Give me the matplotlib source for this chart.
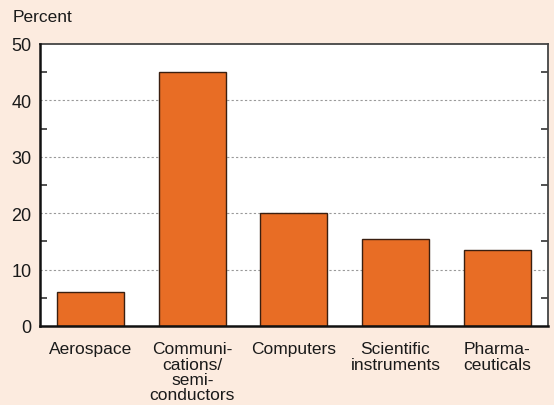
#!/usr/bin/env python3

import matplotlib
matplotlib.use('Agg')
import matplotlib.pyplot as plt
from matplotlib.ticker import MultipleLocator

# Share by industry (percent)
CATEGORIES = [
    "Aerospace",
    "Communi-\ncations/\nsemi-\nconductors",
    "Computers",
    "Scientific\ninstruments",
    "Pharma-\nceuticals",
]
VALUES = [6.0, 45.0, 20.0, 15.5, 13.5]
Y_TICKS = [0, 10, 20, 30, 40, 50]

BG = '#fcebdf'
BAR = '#e86d25'

plt.rcParams['font.family'] = ['Liberation Sans', 'DejaVu Sans']

fig = plt.figure(figsize=(5.54, 4.06), dpi=100, facecolor=BG)
ax = fig.add_axes([0.0722, 0.1946, 0.9168, 0.6946])
ax.set_facecolor('white')

x = range(len(CATEGORIES))
ax.bar(x, VALUES, width=0.66, color=BAR, edgecolor='#3a1f10',
       linewidth=1.0, zorder=3)

ax.set_xlim(-0.5, len(CATEGORIES) - 0.5)
ax.set_ylim(0, 50)
ax.set_yticks(Y_TICKS)
ax.yaxis.set_minor_locator(MultipleLocator(5))
ax.set_xticks(list(x))
ax.set_xticklabels(CATEGORIES, fontsize=12.5, linespacing=1.03,
                   color='#1a1a1a')
ax.tick_params(axis='x', length=0, pad=11)
ax.tick_params(axis='y', which='major', length=0, pad=6,
               labelsize=13, labelcolor='#1a1a1a')
ax.tick_params(axis='y', which='minor', direction='in', length=5,
               width=1.2, color='#333333', left=True, right=True)

for y in Y_TICKS[1:-1]:
    ax.axhline(y, color='#999999', linestyle=(0, (2, 2)), linewidth=0.8,
               zorder=1)

for side in ['left', 'bottom']:
    ax.spines[side].set_linewidth(1.8)
    ax.spines[side].set_color('#111111')
    ax.spines[side].set_zorder(4)
for side in ['top', 'right']:
    ax.spines[side].set_linewidth(1.3)
    ax.spines[side].set_color('#444444')

fig.text(13 / 554, 1 - 18 / 406, 'Percent', fontsize=12.5,
         color='#1a1a1a', ha='left', va='center')

fig.savefig('out.png', dpi=100, facecolor=BG)
